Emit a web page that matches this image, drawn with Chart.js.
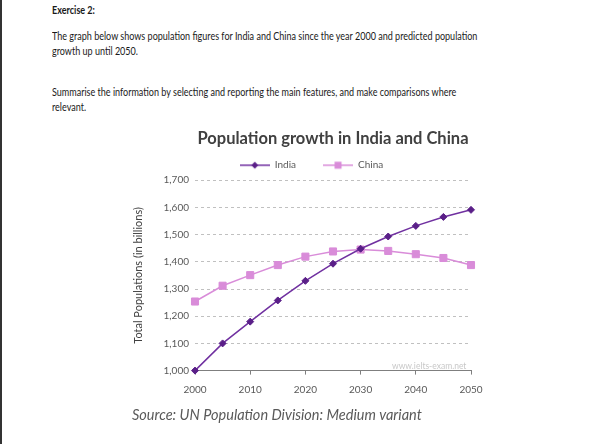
<!DOCTYPE html>
<html>
<head>
<meta charset="utf-8">
<script src="https://cdn.jsdelivr.net/npm/chart.js@4"></script>
<style>
  body { margin: 0; background: #fff; }
  #wrap { position: relative; width: 600px; height: 444px; overflow: hidden; background: #fff; }
  #edge { position: absolute; left: 0; top: 0; width: 2px; height: 444px; background: #333; }
  .txt { position: absolute; left: 52px; font-family: Lato, sans-serif; font-size: 11px; line-height: 14.5px; color: #1a1a1a; white-space: nowrap; transform: scaleX(0.82); transform-origin: 0 0; }
  #mark { position: absolute; left: 392px; top: 361px; font-family: Lato, sans-serif; font-size: 8.5px; color: #c8c8c8; }
  canvas { position: absolute; left: 0; top: 0; }
</style>
</head>
<body>
<div id="wrap">
  <div id="edge"></div>
  <div class="txt" style="top:3px;font-weight:bold">Exercise 2:</div>
  <div class="txt" style="top:29px">The graph below shows population figures for India and China since the year 2000 and predicted population<br>growth up until 2050.</div>
  <div class="txt" style="top:85px">Summarise the information by selecting and reporting the main features, and make comparisons where<br>relevant.</div>
  <canvas id="myChart" width="600" height="444"></canvas>
  <div id="mark">www.ielts-exam.net</div>
</div>
<script>
// datos
const years = [2000, 2005, 2010, 2015, 2020, 2025, 2030, 2035, 2040, 2045, 2050];
const india = [1000, 1100, 1180, 1258, 1330, 1393, 1448, 1493, 1532, 1565, 1591];
const china = [1254, 1312, 1351, 1388, 1419, 1438, 1445, 1440, 1428, 1414, 1388];
const xTicks = [2000, 2010, 2020, 2030, 2040, 2050];
const yTicks = [1000, 1100, 1200, 1300, 1400, 1500, 1600, 1700];

const colIndia = '#7030a0';
const colIndiaPt = '#5a1f88';
const colChina = '#d98cd9';

function legendMark(line, fill, shape){
  const c = document.createElement('canvas');
  c.width = 30; c.height = 10;
  const g = c.getContext('2d');
  g.strokeStyle = line; g.lineWidth = 1.5;
  g.beginPath(); g.moveTo(0, 5); g.lineTo(30, 5); g.stroke();
  g.fillStyle = fill;
  if(shape == 'diamond'){
    g.beginPath(); g.moveTo(15, 1.5); g.lineTo(18.5, 5); g.lineTo(15, 8.5); g.lineTo(11.5, 5); g.closePath(); g.fill();
  } else {
    g.fillRect(11.5, 1.5, 7, 7);
  }
  return c;
}
const marks = [legendMark(colIndia, colIndiaPt, 'diamond'), legendMark(colChina, colChina, 'square')];

// corro la leyenda un poco a la derecha como en la imagen
const legendShift = {
  id: 'legendShift',
  afterLayout(chart){
    chart.legend.left += 10;
    chart.legend.right += 10;
  }
};

Chart.defaults.font.family = 'Lato, sans-serif';
Chart.defaults.color = '#595959';

const ctx = document.getElementById('myChart');
let myChart = new Chart(ctx, {
  type: 'line',
  data: {
    datasets: [{
      label: 'India',
      data: years.map((y, i) => ({x: y, y: india[i]})),
      borderColor: colIndia,
      borderWidth: 1.5,
      pointStyle: 'rectRot',
      pointRadius: 3.5,
      pointBackgroundColor: colIndiaPt,
      pointBorderColor: colIndiaPt,
      pointBorderWidth: 1,
      tension: 0,
      clip: false
    }, {
      label: 'China',
      data: years.map((y, i) => ({x: y, y: china[i]})),
      borderColor: colChina,
      borderWidth: 1.5,
      pointStyle: 'rect',
      pointRadius: 5,
      pointBackgroundColor: colChina,
      pointBorderColor: colChina,
      pointBorderWidth: 1,
      tension: 0,
      clip: false
    }]
  },
  options: {
    responsive: false,
    animation: false,
    events: [],
    layout: { padding: { left: 132, right: 129, top: 129, bottom: 20 } },
    plugins: {
      title: {
        display: true,
        text: 'Population growth in India and China',
        fullSize: false,
        color: '#404040',
        font: { size: 16.5, weight: 'bold' },
        padding: { top: 0, bottom: -15.6 }
      },
      legend: {
        display: true,
        labels: {
          usePointStyle: true,
          pointStyleWidth: 30,
          padding: 27,
          color: '#595959',
          font: { size: 10 },
          generateLabels(chart){
            const items = Chart.defaults.plugins.legend.labels.generateLabels(chart);
            items.forEach((it, i) => { it.pointStyle = marks[i]; });
            return items;
          }
        }
      },
      subtitle: {
        display: true,
        position: 'bottom',
        align: 'start',
        text: 'Source: UN Population Division: Medium variant',
        color: '#595959',
        font: { size: 14.5, style: 'italic' },
        padding: { top: 2, bottom: 0 }
      },
      tooltip: { enabled: false }
    },
    scales: {
      x: {
        type: 'linear',
        min: 2000,
        max: 2050,
        afterBuildTicks: (scale) => { scale.ticks = xTicks.map(v => ({value: v})); },
        ticks: { padding: 9, font: { size: 10 }, color: '#595959', callback: (v) => String(v) },
        grid: { drawOnChartArea: false, drawTicks: true, tickLength: 4, color: '#7f7f7f' },
        border: { display: true, color: '#7f7f7f', width: 1 }
      },
      y: {
        min: 1000,
        max: 1700,
        afterBuildTicks: (scale) => { scale.ticks = yTicks.map(v => ({value: v})); },
        afterFit: (scale) => { scale.width = 63; },
        ticks: { padding: 6, font: { size: 10 }, color: '#595959', callback: (v) => v.toLocaleString('en-US') },
        grid: {
          drawTicks: false,
          color: (c) => c.tick && c.tick.value == 1000 ? 'rgba(0,0,0,0)' : '#c0c0c0'
        },
        border: { display: false, dash: [3, 3] },
        title: {
          display: true,
          text: 'Total Populations (in billions)',
          color: '#404040',
          font: { size: 11 },
          padding: { top: 0, bottom: 0 }
        }
      }
    }
  },
  plugins: [legendShift]
});
</script>
</body>
</html>
